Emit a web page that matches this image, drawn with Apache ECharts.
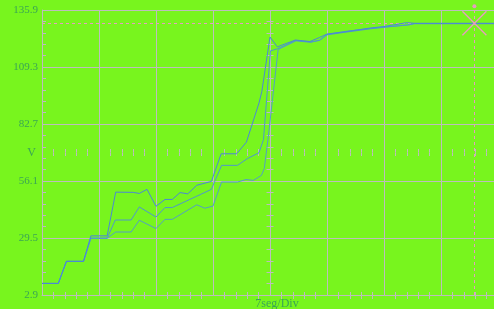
<!DOCTYPE html>
<html>
<head>
<meta charset="utf-8">
<script src="https://cdn.jsdelivr.net/npm/echarts@6/dist/echarts.min.js"></script>
<style>
html, body { margin: 0; padding: 0; background: #78f51e; }
#chart { width: 494px; height: 309px; }
</style>
</head>
<body>
<div id="chart"></div>
<script>
// scope settings: 7 s per division, 8 divisions across, 5 up
var T_DIV = 7;
var X_DIVS = 8;
var V_MIN = 2.9;
var V_STEP = 26.6;
var Y_DIVS = 5;
var voltLabels = ['2.9', '29.5', '56.1', '82.7', '109.3', '135.9'];

// three traces, [seconds, volts]
var traceA = [[0, 8.3], [2.0, 8.3], [3.0, 18.6], [5.1, 18.6], [6.0, 30.5], [8.0, 30.5],
    [9.05, 50.9], [11.2, 50.8], [11.95, 50.3], [12.9, 52.2], [14.0, 44.3], [15.1, 47.5],
    [16.0, 47.5], [16.95, 50.7], [17.9, 50.1], [19.0, 54.1], [20.8, 55.9], [22.0, 68.8],
    [23.9, 68.8], [25.1, 74.2], [26.65, 92.5], [27.0, 97.9], [28.0, 123.3], [28.9, 118.7],
    [31.1, 121.9], [32.9, 121.2], [34.1, 123.1], [35.0, 124.7], [37.2, 125.7], [40.3, 127.5],
    [42.0, 128.2], [44.8, 130.0], [45.7, 129.7], [56, 129.7]];
var traceB = [[0, 8.3], [2.0, 8.3], [3.0, 18.6], [5.1, 18.6], [6.0, 29.4], [8.0, 29.4],
    [9.0, 37.9], [10.95, 37.9], [11.95, 44.0], [14.0, 39.3], [15.1, 43.7], [16.0, 43.7],
    [19.0, 49.0], [20.8, 52.2], [22.05, 63.4], [24.0, 63.4], [25.2, 66.5], [26.65, 69.3],
    [27.2, 75.4], [28.05, 116.8], [28.9, 117.8], [31.2, 121.7], [33.0, 121.0], [34.1, 121.7],
    [35.0, 124.3], [37.2, 125.5], [40.3, 127.1], [42.0, 127.8], [45.1, 129.0], [45.7, 129.5],
    [56, 129.5]];
var traceC = [[0, 8.3], [2.0, 8.3], [3.0, 18.6], [5.1, 18.6], [6.0, 29.4], [8.0, 29.4],
    [9.05, 32.3], [10.95, 32.3], [11.95, 37.8], [14.0, 33.9], [15.1, 38.2], [16.0, 38.2],
    [19.0, 45.0], [20.0, 43.4], [21.0, 44.4], [22.05, 55.6], [24.0, 55.6], [25.05, 56.8],
    [25.95, 56.4], [26.95, 58.7], [27.3, 62.0], [27.75, 75.4], [29.0, 117.5], [31.2, 121.5],
    [33.0, 120.8], [34.1, 121.9], [35.0, 124.5], [37.2, 125.9], [40.3, 127.3], [42.0, 128.0],
    [45.1, 129.0], [45.7, 129.6], [56, 129.6]];

// cursor
var markerT = 53.1;
var markerV = 129.7;

var gridColor = '#bdbdbd';
var pink = '#e89cc0';
var textColor = '#3aa655';

function toDiv(v) {
    return (v - V_MIN) / V_STEP;
}
function toSeries(arr) {
    return arr.map(function (p) { return [p[0], toDiv(p[1])]; });
}

// ticks-only axis (for edges and center cross)
function tickAxis(pos, offset, inside, len) {
    var horiz = pos == 'top' || pos == 'bottom';
    return {
        type: 'value',
        position: pos,
        offset: offset,
        min: 0,
        max: horiz ? T_DIV * X_DIVS : Y_DIVS,
        interval: horiz ? T_DIV : 1,
        axisLine: { show: false },
        axisTick: { show: false, inside: inside },
        minorTick: { show: true, splitNumber: 5, length: len, lineStyle: { color: gridColor } },
        axisLabel: { show: false },
        splitLine: { show: false }
    };
}

// cursor cross: X mark plus small dot above
function renderCursor(params, api) {
    var p = api.coord([api.value(0), api.value(1)]);
    var r = 12;
    return {
        type: 'group',
        children: [
            {
                type: 'polyline',
                shape: { points: [[p[0] - r, p[1] - r], [p[0] + r, p[1] + r]] },
                style: { stroke: pink, lineWidth: 1.3, fill: null }
            },
            {
                type: 'polyline',
                shape: { points: [[p[0] - r, p[1] + r], [p[0] + r, p[1] - r]] },
                style: { stroke: pink, lineWidth: 1.3, fill: null }
            },
            { type: 'circle', shape: { cx: p[0], cy: p[1] - 17, r: 2 }, style: { fill: pink } }
        ]
    };
}

var chart = echarts.init(document.getElementById('chart'));

var option = {
    backgroundColor: '#78f51e',
    animation: false,
    grid: {
        left: 42,
        top: 10,
        width: 456,
        height: 285,
        containLabel: false,
        outerBoundsMode: 'none'
    },
    xAxis: [
        {
            type: 'value',
            position: 'bottom',
            min: 0,
            max: T_DIV * X_DIVS,
            interval: T_DIV,
            name: '7seg/Div',
            nameLocation: 'middle',
            nameGap: 3,
            nameMoveOverlap: false,
            nameTextStyle: {
                color: textColor,
                fontFamily: 'Liberation Serif',
                fontSize: 12,
                padding: [0, 0, 0, 14]
            },
            axisLine: { show: true, lineStyle: { color: gridColor } },
            axisTick: { show: false, inside: true },
            minorTick: { show: true, splitNumber: 5, length: 3, lineStyle: { color: gridColor } },
            axisLabel: { show: false },
            splitLine: { show: true, lineStyle: { color: gridColor, width: 1 } }
        },
        tickAxis('top', 0, true, 4),
        tickAxis('bottom', -142.5, true, 3.5),
        tickAxis('bottom', -142.5, false, 3.5)
    ],
    yAxis: [
        {
            type: 'value',
            position: 'left',
            min: 0,
            max: Y_DIVS,
            interval: 1,
            name: 'V',
            nameLocation: 'middle',
            nameRotate: 0,
            nameGap: 6,
            nameMoveOverlap: false,
            nameTextStyle: {
                color: textColor,
                fontFamily: 'Liberation Serif',
                fontSize: 12
            },
            axisLine: { show: true, lineStyle: { color: gridColor } },
            axisTick: { show: false, inside: true },
            minorTick: { show: true, splitNumber: 5, length: 4, lineStyle: { color: gridColor } },
            axisLabel: {
                color: textColor,
                fontFamily: 'Liberation Serif',
                fontSize: 11,
                margin: 4,
                formatter: function (v) { return voltLabels[Math.round(v)]; }
            },
            splitLine: { show: true, lineStyle: { color: gridColor, width: 1 } }
        },
        tickAxis('left', -228, true, 3.5),
        tickAxis('left', -228, false, 3.5)
    ],
    series: [
        {
            type: 'line',
            z: 2,
            data: toSeries(traceC),
            symbol: 'none',
            lineStyle: { color: '#52a0c4', width: 1 }
        },
        {
            type: 'line',
            z: 2,
            data: toSeries(traceB),
            symbol: 'none',
            lineStyle: { color: '#4e98cc', width: 1 }
        },
        {
            type: 'line',
            z: 2,
            data: toSeries(traceA),
            symbol: 'none',
            lineStyle: { color: '#4a88d6', width: 1 },
            markLine: {
                silent: true,
                z: 1,
                symbol: ['none', 'none'],
                label: { show: false },
                lineStyle: { color: pink, type: [3, 3], width: 1 },
                data: [{ xAxis: markerT }, { yAxis: toDiv(markerV) }]
            }
        },
        {
            type: 'custom',
            z: 3,
            clip: false,
            data: [[markerT, toDiv(markerV)]],
            renderItem: renderCursor
        }
    ]
};

chart.setOption(option);
</script>
</body>
</html>
